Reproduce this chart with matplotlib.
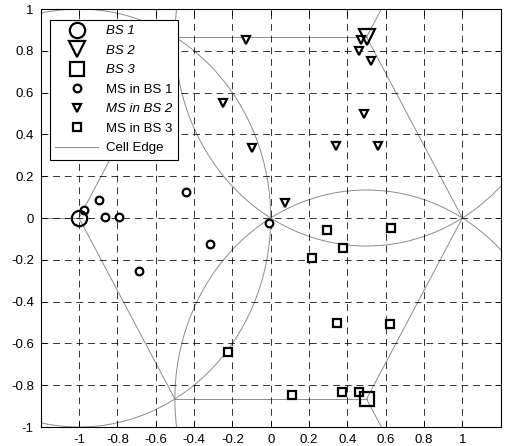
import matplotlib
matplotlib.use("Agg")
import matplotlib.pyplot as plt
from matplotlib.patches import Circle
import numpy as np

plt.rcParams['font.family'] = ['Liberation Sans', 'DejaVu Sans']
plt.rcParams['font.size'] = 9.5

# base stations
bs_x = [-1.0, 0.5, 0.5]
bs_y = [0.0, 0.866, -0.866]
bs_labels = ["BS 1", "BS 2", "BS 3"]
bs_markers = ["o", "v", "s"]

# mobile stations attached to each base station
ms1_x = [-0.976, -0.897, -0.866, -0.789, -0.440, -0.317, -0.688, -0.008]
ms1_y = [0.038, 0.086, 0.003, 0.006, 0.126, -0.124, -0.252, -0.022]

ms2_x = [-0.130, -0.247, -0.097, 0.471, 0.462, 0.523, 0.489, 0.340, 0.562, 0.074]
ms2_y = [0.852, 0.552, 0.333, 0.852, 0.800, 0.751, 0.496, 0.344, 0.344, 0.070]

ms3_x = [0.292, 0.375, 0.215, 0.628, 0.346, 0.625, -0.221, 0.110, 0.372, 0.462]
ms3_y = [-0.057, -0.145, -0.190, -0.049, -0.501, -0.509, -0.640, -0.847, -0.831, -0.834]

ms_labels = ["MS in BS 1", "MS in BS 2", "MS in BS 3"]

# cell layout: radius and sector boundary directions (degrees)
cell_radius = 1.0
sector_angles = [60, 180, 300]

fig = plt.figure(figsize=(5.05, 4.46), dpi=100)
ax = fig.add_axes([0.0806, 0.0426, 0.9109, 0.9372])

edge_kw = dict(color='0.55', lw=0.7, zorder=1)

for bx, by, lab, mk in zip(bs_x, bs_y, bs_labels, bs_markers):
    ax.plot(bx, by, mk, ms=11 if mk != 's' else 10, mfc='none', mec='k', mew=1.6,
            ls='none', label=lab, zorder=4)

for xs, ys, lab, mk in zip([ms1_x, ms2_x, ms3_x], [ms1_y, ms2_y, ms3_y],
                           ms_labels, bs_markers):
    ax.plot(xs, ys, mk, ms=5.5, mfc='white', mec='k', mew=1.6, ls='none',
            label=lab, zorder=3)

first = True
for bx, by in zip(bs_x, bs_y):
    ax.add_patch(Circle((bx, by), cell_radius, fill=False, ec=edge_kw['color'],
                        lw=edge_kw['lw'], zorder=1))
    for a in sector_angles:
        t = np.deg2rad(a)
        ax.plot([bx, bx + cell_radius * np.cos(t)], [by, by + cell_radius * np.sin(t)],
                label='Cell Edge' if first else None, **edge_kw)
        first = False

ax.set_xlim(-1.2, 1.2)
ax.set_ylim(-1, 1)
xt = np.round(np.arange(-1, 1.01, 0.2), 1)
ax.set_xticks(xt)
ax.set_yticks(xt)
fmt = lambda v: '0' if v == 0 else ('%g' % v)
ax.set_xticklabels([fmt(v) for v in xt])
ax.set_yticklabels([fmt(v) for v in xt])
ax.tick_params(direction='in', length=4, width=0.6, top=True, right=True, pad=5)

ax.grid(True, color='k', ls=(0, (7, 5)), lw=0.7, alpha=0.8)
for s in ax.spines.values():
    s.set_linewidth(0.8)

leg = ax.legend(loc='upper left', bbox_to_anchor=(0.005, 0.99), fancybox=False,
                edgecolor='k', framealpha=1, handlelength=3.3, handletextpad=0.6,
                labelspacing=0.55, borderpad=0.4, fontsize=9.5)
leg.get_frame().set_linewidth(0.8)
for txt in leg.get_texts():
    if txt.get_text() in ("BS 1", "BS 2", "BS 3", "MS in BS 2"):
        txt.set_fontstyle('italic')

fig.savefig("out.png", dpi=100)
